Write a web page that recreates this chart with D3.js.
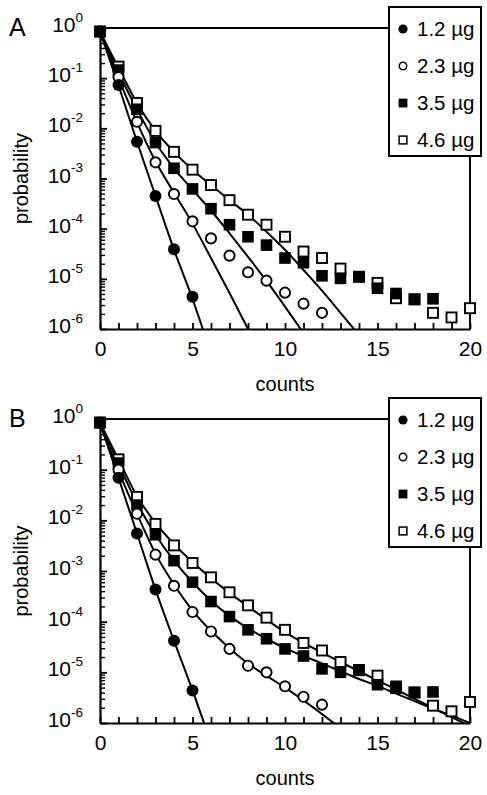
<!DOCTYPE html>
<html>
<head>
<meta charset="utf-8">
<script src="https://cdn.jsdelivr.net/npm/d3@7"></script>
<style>
body { margin: 0; background: #fff; }
text { font-family: "Liberation Sans", Arial, sans-serif; fill: #000; }
</style>
</head>
<body>
<svg id="fig" width="487" height="795"></svg>
<script>
// series names and tick labels
var seriesNames = ["1.2 µg", "2.3 µg", "3.5 µg", "4.6 µg"];
var yTickExps = [0, -1, -2, -3, -4, -5, -6];
var xTickLabels = [0, 5, 10, 15, 20];

// panel A, measured probabilities at counts 0,1,2,...
var ptsA12 = [0.85, 0.073, 0.0054, 4.5e-4, 3.9e-5, 4.4e-6];
var ptsA23 = [0.85, 0.105, 0.0135, 0.0021, 4.9e-4, 1.4e-4, 6.4e-5, 2.9e-5, 1.35e-5, 9.2e-6, 5.3e-6, 3.2e-6, 2.1e-6];
var ptsA35 = [0.85, 0.145, 0.024, 0.0052, 0.0016, 6.2e-4, 2.5e-4, 1.2e-4, 6.9e-5, 4.7e-5, 2.6e-5, 2.1e-5, 1.15e-5, 1.02e-5, 1.1e-5, 6.5e-6, 5.1e-6, 3.9e-6, 4.0e-6];
var ptsA46 = [0.85, 0.17, 0.032, 0.0089, 0.0034, 0.0015, 7.4e-4, 3.7e-4, 1.9e-4, 1.2e-4, 6.9e-5, 3.5e-5, 2.6e-5, 1.6e-5, 1.1e-5, 8.3e-6, 4.1e-6, 3.9e-6, 2.1e-6, 1.7e-6, 2.6e-6];

// panel A, fitted curves at counts 0,1,2,...
var fitA12 = [0.85, 0.072, 0.0054, 4.5e-4, 3.8e-5, 4.0e-6, 3.2e-7];
var fitA23 = [0.85, 0.1, 0.0132, 0.0022, 5.2e-4, 1.26e-4, 2.6e-5, 5.2e-6, 1.0e-6, 1.8e-7];
var fitA35 = [0.85, 0.13, 0.024, 0.0052, 0.0016, 6.0e-4, 2.3e-4, 8.1e-5, 2.75e-5, 9.1e-6, 2.8e-6, 8.3e-7];
var fitA46 = [0.85, 0.16, 0.032, 0.0089, 0.0034, 0.0015, 7.4e-4, 3.7e-4, 1.9e-4, 8.7e-5, 3.8e-5, 1.5e-5, 5.8e-6, 2.1e-6, 7.6e-7];

// panel B, measured probabilities
var ptsB12 = [0.83, 0.069, 0.0055, 4.3e-4, 4.2e-5, 4.4e-6];
var ptsB23 = [0.85, 0.1, 0.0135, 0.0021, 5.1e-4, 1.55e-4, 6.4e-5, 2.9e-5, 1.35e-5, 1.0e-5, 5.3e-6, 3.3e-6, 2.3e-6];
var ptsB35 = [0.85, 0.135, 0.020, 0.0052, 0.0016, 6.0e-4, 2.5e-4, 1.26e-4, 6.9e-5, 4.6e-5, 2.9e-5, 2.1e-5, 1.17e-5, 1.0e-5, 1.12e-5, 5.7e-6, 5.3e-6, 4.0e-6, 4.1e-6];
var ptsB46 = [0.85, 0.16, 0.029, 0.0085, 0.0032, 0.00144, 7.5e-4, 3.8e-4, 2.1e-4, 1.2e-4, 6.9e-5, 3.8e-5, 2.7e-5, 1.6e-5, 1.1e-5, 8.6e-6, 4.9e-6, 4.0e-6, 2.2e-6, 1.7e-6, 2.6e-6];

// panel B, fitted curves
var fitB12 = [0.83, 0.069, 0.0055, 4.3e-4, 4.2e-5, 4.4e-6, 4.0e-7];
var fitB23 = [0.85, 0.095, 0.0135, 0.0022, 5.4e-4, 1.66e-4, 6.6e-5, 3.0e-5, 1.5e-5, 8.5e-6, 5.0e-6, 2.8e-6, 1.5e-6, 7.9e-7];
var fitB35 = [0.85, 0.13, 0.022, 0.0052, 0.0016, 6.0e-4, 2.6e-4, 1.3e-4, 7.4e-5, 4.6e-5, 3.0e-5, 2.1e-5, 1.5e-5, 1.05e-5, 7.4e-6, 5.4e-6, 3.8e-6, 2.7e-6, 1.9e-6, 1.4e-6, 1.0e-6];
var fitB46 = [0.85, 0.16, 0.030, 0.0089, 0.0034, 0.0015, 7.2e-4, 3.7e-4, 2.0e-4, 1.1e-4, 6.2e-5, 3.8e-5, 2.45e-5, 1.6e-5, 1.05e-5, 6.9e-6, 4.6e-6, 3.0e-6, 2.0e-6, 1.3e-6, 8.7e-7];

var svg = d3.select("#fig");

var panels = [
    { name: "A", top: 28, bottom: 329, pts: [ptsA12, ptsA23, ptsA35, ptsA46], fits: [fitA12, fitA23, fitA35, fitA46] },
    { name: "B", top: 419, bottom: 723, pts: [ptsB12, ptsB23, ptsB35, ptsB46], fits: [fitB12, fitB23, fitB35, fitB46] }
];

var left = 100, right = 470;

// draws one marker of series k at (0,0) inside g
function marker(g, k, big) {
    if (k == 0) {
        g.append("circle").attr("r", big ? 6 : 4.6).attr("fill", "#000");
    } else if (k == 1) {
        g.append("circle").attr("r", big ? 5.1 : 3.7).attr("fill", "#fff")
            .attr("stroke", "#000").attr("stroke-width", big ? 1.9 : 1.5);
    } else if (k == 2) {
        var s = big ? 11.6 : 8.8;
        g.append("rect").attr("x", -s / 2).attr("y", -s / 2).attr("width", s).attr("height", s).attr("fill", "#000");
    } else {
        var s = big ? 10 : 7.8;
        g.append("rect").attr("x", -s / 2).attr("y", -s / 2).attr("width", s).attr("height", s)
            .attr("fill", "#fff").attr("stroke", "#000").attr("stroke-width", big ? 1.9 : 1.5);
    }
}

panels.forEach(function(p, pi) {
    var off = p.top - 28;
    var x = d3.scaleLinear().domain([0, 20]).range([left, right]);
    var y = d3.scaleLog().domain([1, 1e-6]).range([p.top, p.bottom]);
    var g = svg.append("g").attr("class", "panel");

    // clip so fits stop at the axis
    var clipId = "clip" + pi;
    svg.append("clipPath").attr("id", clipId).append("rect")
        .attr("x", left).attr("y", p.top - 2).attr("width", right - left).attr("height", p.bottom - p.top + 2);

    // minor y ticks
    var minor = [];
    yTickExps.slice(1).forEach(function(e) {
        for (var m = 2; m <= 9; m++) minor.push(m * Math.pow(10, e));
    });
    g.append("g").attr("transform", "translate(" + left + ",0)")
        .call(d3.axisLeft(y).tickValues(minor).tickSize(-5).tickFormat(""))
        .call(function(a) { a.select(".domain").remove(); a.selectAll("line").attr("stroke-width", 1.4); });

    // major y ticks with 10^n labels
    var yAx = g.append("g").attr("transform", "translate(" + left + ",0)")
        .call(d3.axisLeft(y).tickValues(yTickExps.map(function(e) { return Math.pow(10, e); }))
            .tickSize(-7).tickSizeOuter(0).tickPadding(22).tickFormat(""));
    yAx.select(".domain").attr("stroke-width", 2.2);
    yAx.selectAll("line").attr("stroke-width", 1.8);
    yAx.selectAll(".tick text").each(function(d) {
        var t = d3.select(this).attr("font-size", null).attr("font-family", null).attr("dy", "0.36em");
        var e = Math.round(Math.log10(d));
        t.append("tspan").attr("font-size", 21).text("10");
        t.append("tspan").attr("font-size", 13.5).attr("dy", "-0.75em").text(e == 0 ? "0" : "-" + (-e));
    });
    yAx.selectAll(".tick text").attr("x", -17).attr("fill", "#000");

    // x axis, ticks point up
    var xAx = g.append("g").attr("transform", "translate(0," + p.bottom + ")")
        .call(d3.axisBottom(x).ticks(20).tickSize(-6).tickSizeOuter(0).tickPadding(12)
            .tickFormat(function(d) { return xTickLabels.indexOf(d) >= 0 ? d : ""; }));
    xAx.select(".domain").attr("stroke-width", 2.2);
    xAx.selectAll("line").attr("stroke-width", 1.8);
    xAx.selectAll("text").attr("font-size", 21).attr("font-family", null).attr("fill", "#000");

    // legend box and frame lines
    var lx = 389, ly = 7 + off, lw = 92, lh = 149;
    g.append("line").attr("x1", left).attr("x2", lx).attr("y1", p.top).attr("y2", p.top)
        .attr("stroke", "#000").attr("stroke-width", 2);
    g.append("line").attr("x1", right).attr("x2", right).attr("y1", ly + lh).attr("y2", p.bottom)
        .attr("stroke", "#000").attr("stroke-width", 2);
    g.append("rect").attr("x", lx).attr("y", ly).attr("width", lw).attr("height", lh)
        .attr("fill", "#fff").attr("stroke", "#000").attr("stroke-width", 2);
    seriesNames.forEach(function(s, k) {
        var cy = ly + 22 + k * 37;
        var mg = g.append("g").attr("transform", "translate(" + (lx + 14) + "," + cy + ")");
        marker(mg, k, false);
        g.append("text").attr("x", lx + 28).attr("y", cy + 7).attr("font-size", 20.5).text(s);
    });

    // fitted curves
    var line = d3.line()
        .x(function(d, i) { return x(i); })
        .y(function(d) { return y(d); })
        .curve(d3.curveMonotoneX);
    g.append("g").attr("clip-path", "url(#" + clipId + ")")
        .selectAll("path").data(p.fits).enter().append("path")
        .attr("d", line).attr("fill", "none").attr("stroke", "#000").attr("stroke-width", 2);

    // markers: open squares under filled squares
    [3, 2, 1, 0].forEach(function(k) {
        g.append("g").selectAll("g").data(p.pts[k]).enter().append("g")
            .attr("transform", function(d, i) { return "translate(" + x(i) + "," + y(d) + ")"; })
            .each(function() { marker(d3.select(this), k, true); });
    });

    // labels
    g.append("text").attr("x", 9).attr("y", 36 + off).attr("font-size", 25).text(p.name);
    g.append("text").attr("transform", "translate(28," + ((p.top + p.bottom) / 2) + ") rotate(-90)")
        .attr("text-anchor", "middle").attr("font-size", 20).text("probability");
    g.append("text").attr("x", (left + right) / 2).attr("y", p.bottom + 62)
        .attr("text-anchor", "middle").attr("font-size", 20).text("counts");
});
</script>
</body>
</html>
